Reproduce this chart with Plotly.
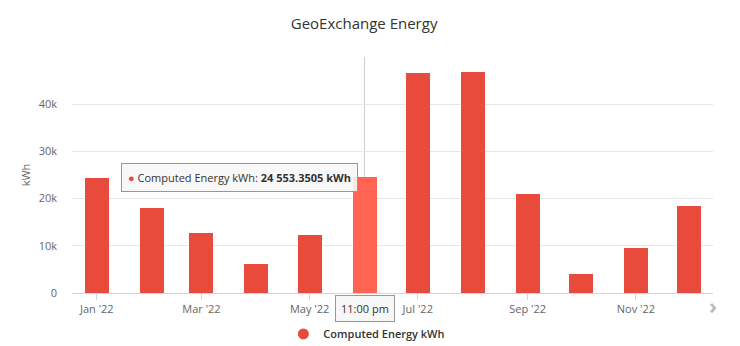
import plotly.graph_objects as go

months = ["2022-01-01", "2022-02-01", "2022-03-01", "2022-04-01", "2022-05-01", "2022-06-01",
          "2022-07-01", "2022-08-01", "2022-09-01", "2022-10-01", "2022-11-01", "2022-12-01"]
energy_kwh = [24300, 18100, 12700, 6100, 12300, 24553.3505,
              46600, 46800, 21000, 3950, 9600, 18400]
tick_dates = ["2022-01-01", "2022-03-01", "2022-05-01", "2022-07-01", "2022-09-01", "2022-11-01"]
tick_labels = ["Jan '22", "Mar '22", "May '22", "Jul '22", "Sep '22", "Nov '22"]
y_ticks = [0, 10000, 20000, 30000, 40000, 50000]
y_tick_labels = ["0", "10k", "20k", "30k", "40k", ""]

series_name = "Computed Energy kWh"
hover_index = 5
bar_color = "#e84a3b"
hover_color = "#ff6351"
FONT = "Open Sans"

colors = [hover_color if i == hover_index else bar_color for i in range(len(months))]

fig = go.Figure()
fig.add_trace(go.Bar(
    x=months, y=energy_kwh, marker=dict(color=colors, line=dict(width=0)),
    width=13.5 * 86400000, showlegend=False, hoverinfo="skip"))
fig.add_trace(go.Scatter(
    x=[None], y=[None], mode="markers", name=series_name,
    marker=dict(symbol="circle", size=11, color=bar_color)))

# crosshair
fig.add_shape(type="line", xref="x", yref="paper", x0=months[hover_index], x1=months[hover_index],
              y0=0, y1=1, line=dict(color="#cccccc", width=1), layer="below")

# tooltip
fig.add_annotation(
    x=months[hover_index], y=energy_kwh[hover_index], xref="x", yref="y",
    xanchor="right", yanchor="middle", xshift=-7, showarrow=False,
    text=f"<span style='color:{bar_color}'>●</span> {series_name}: <b>24 553.3505 kWh</b>",
    font=dict(family=FONT, size=11, color="#333333"),
    bgcolor="rgba(247,247,247,0.9)", bordercolor="#e8766b", borderwidth=1, borderpad=6)

# crosshair label
fig.add_annotation(
    x=months[hover_index], y=0, xref="x", yref="paper", xanchor="center", yanchor="top",
    yshift=-2, showarrow=False, text="11:00 pm",
    font=dict(family=FONT, size=11, color="#333333"),
    bgcolor="rgba(247,247,247,0.95)", bordercolor="#999999", borderwidth=1, borderpad=5)

# navigation arrow
fig.add_annotation(
    x=1.0, y=0, xref="paper", yref="paper", xanchor="center", yanchor="middle", yshift=-12,
    showarrow=False, text="<b>›</b>", font=dict(family=FONT, size=22, color="#bbbbbb"))

fig.update_layout(
    width=740, height=346,
    margin=dict(l=72, r=27, t=57, b=53, autoexpand=False),
    paper_bgcolor="white", plot_bgcolor="white",
    font=dict(family=FONT, color="#666666"),
    title=dict(text="GeoExchange Energy", x=0.492, xanchor="center", y=0.93, yanchor="middle",
               font=dict(family=FONT, size=15, color="#333333")),
    bargap=0,
    showlegend=True,
    legend=dict(orientation="h", x=0.46, xanchor="center", yref="container", y=0.035,
                yanchor="middle",
                font=dict(family=FONT, size=11, color="#333333", weight=600)),
    xaxis=dict(type="date", range=["2021-12-18", "2022-12-14 12:00"],
               tickvals=tick_dates, ticktext=tick_labels,
               tickfont=dict(family=FONT, size=11, color="#666666"),
               showgrid=False, showline=True, linecolor="#ccd6eb", linewidth=1,
               ticks="outside", ticklen=6, tickcolor="#ccd6eb", zeroline=False),
    yaxis=dict(range=[0, 50000], tickvals=y_ticks, ticktext=y_tick_labels,
               tickfont=dict(family=FONT, size=11, color="#666666"),
               showgrid=True, gridcolor="#e6e6e6", gridwidth=1, zeroline=False,
               ticks="", ticklabelstandoff=14,
               title=dict(text="kWh", font=dict(family=FONT, size=11, color="#666666"), standoff=5)),
)

fig.write_html("out.html")
